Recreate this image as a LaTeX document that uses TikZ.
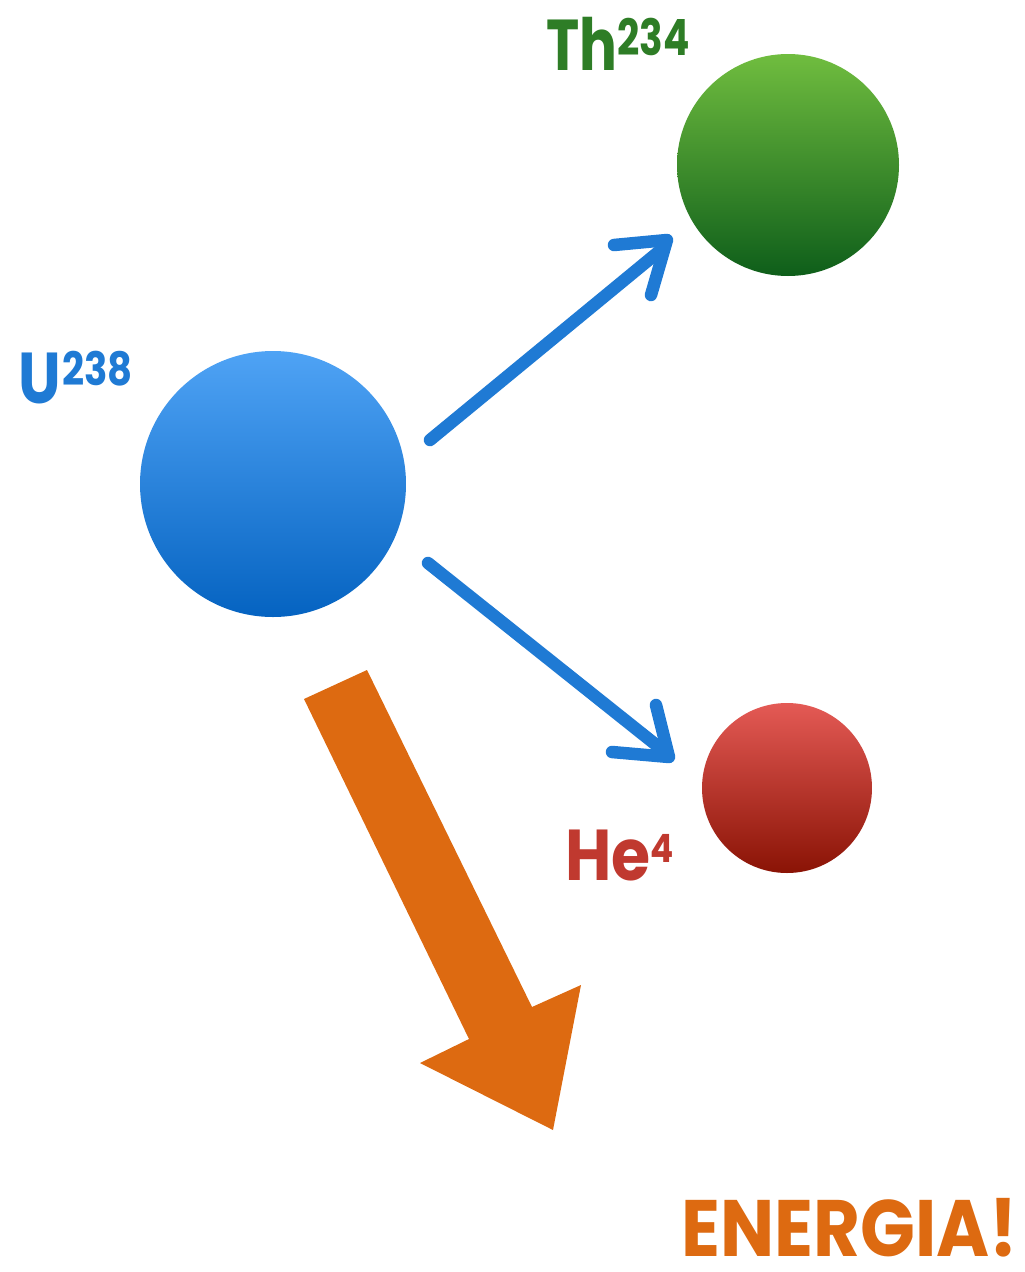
\documentclass[tikz,border=0pt]{standalone}
\usepackage{fontspec}
\setmainfont{Poppins}
\definecolor{ublue}{HTML}{1F7AD4}
\definecolor{thgreen}{HTML}{2E7D26}
\definecolor{hered}{HTML}{C0392F}
\definecolor{eorange}{HTML}{DD6A11}
\definecolor{utop}{RGB}{79,163,245}
\definecolor{ubot}{RGB}{5,99,193}
\definecolor{gtop}{RGB}{112,189,63}
\definecolor{gbot}{RGB}{14,94,26}
\definecolor{rtop}{RGB}{228,90,85}
\definecolor{rbot}{RGB}{138,19,5}
\tikzset{
  nucleus/.style={circle, inner sep=0pt},
  lbl/.style={anchor=base west, inner sep=0pt, font=\bfseries\fontsize{72}{72}\selectfont},
  brush/.style={draw=ublue, line width=12.5pt, line cap=round, line join=round},
}
\begin{document}
\begin{tikzpicture}[x=1pt,y=-1pt]
\useasboundingbox (0,0) rectangle (1025,1272);
% nuclei
\node[nucleus, minimum size=266pt, top color=utop, bottom color=ubot] (u) at (273,484) {};
\node[nucleus, minimum size=222pt, top color=gtop, bottom color=gbot] (th) at (788,165) {};
\node[nucleus, minimum size=170pt, top color=rtop, bottom color=rbot] (he) at (787,788) {};
% labels
\node[lbl, text=ublue] (ul) at (18,403) {\scalebox{0.84}[1]{U\hspace{2pt}\raisebox{18pt}{\fontsize{46}{46}\selectfont 238}}};
\node[lbl, text=thgreen] (thl) at (546,70) {\scalebox{0.78}[1]{Th\raisebox{15pt}{\fontsize{50}{50}\selectfont 234}}};
\node[lbl, text=hered] (hel) at (565,880) {\scalebox{0.88}[1]{He\raisebox{18pt}{\fontsize{39}{39}\selectfont 4}}};
\node[lbl, text=eorange, font=\bfseries\fontsize{80}{80}\selectfont] (en) at (681,1256) {\scalebox{0.9}[1]{ENERGIA!}};
% brush arrows
\coordinate (a1s) at (430,440);
\coordinate (a1e) at (662,249);
\coordinate (a1l) at (614,245);
\coordinate (a1t) at (667,240);
\coordinate (a1r) at (651,295);
\draw[brush] (a1s) -- (a1e);
\draw[brush] (a1l) -- (a1t) -- (a1r);
\coordinate (a2s) at (428,563);
\coordinate (a2e) at (660,748);
\coordinate (a2l) at (612,752);
\coordinate (a2t) at (669,757);
\coordinate (a2r) at (656,705);
\draw[brush] (a2s) -- (a2e);
\draw[brush] (a2l) -- (a2t) -- (a2r);
% big orange arrow
\fill[eorange] (304,699) -- (367,670) -- (532,1007) -- (581,985) -- (553,1130) -- (420,1063) -- (469,1039) -- cycle;
\end{tikzpicture}
\end{document}
